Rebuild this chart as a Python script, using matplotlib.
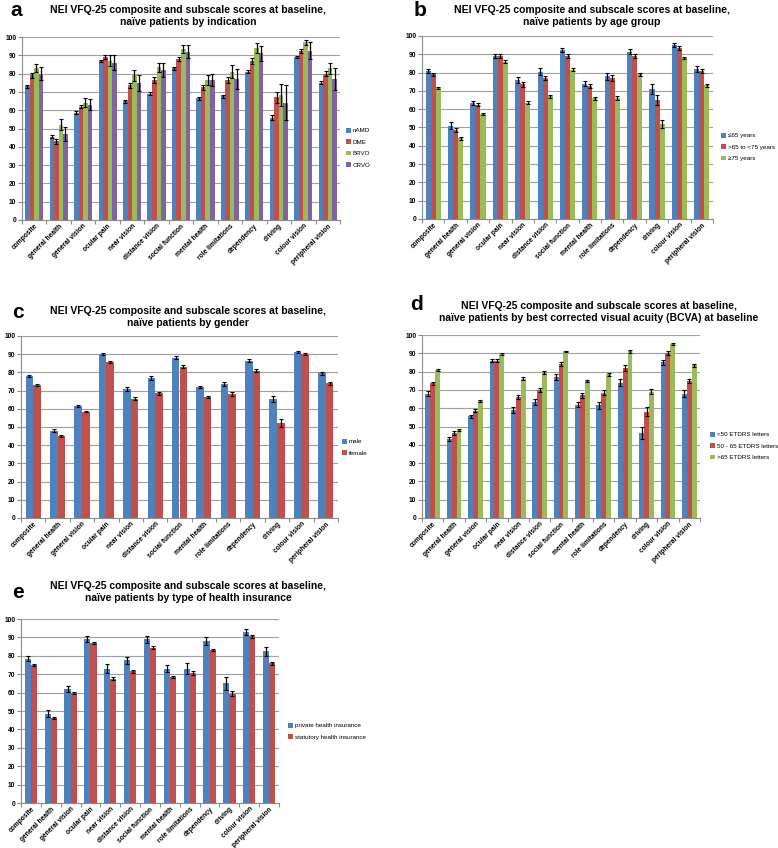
import matplotlib
matplotlib.use("Agg")
import matplotlib.pyplot as plt
import numpy as np

plt.rcParams['font.family'] = ['Liberation Sans', 'DejaVu Sans']

categories = ["composite", "general health", "general vision", "ocular pain", "near vision",
              "distance vision", "social function", "mental health", "role limitations",
              "dependency", "driving", "colour vision", "peripheral vision"]

# Panel a: by indication
a_labels = ["nAMD", "DME", "BRVO", "CRVO"]
a_nAMD = [73, 45.5, 58.5, 87, 65, 69, 83, 66.5, 67.5, 81, 56, 89, 75]
a_DME = [79, 43, 62, 89, 73.5, 76.5, 88, 72.5, 76.5, 87, 67, 92.5, 80]
a_BRVO = [83, 52, 64, 87, 79, 83.5, 93.5, 76.5, 81, 94, 68.5, 97, 83]
a_CRVO = [80, 47, 63, 86, 75, 82, 92, 76.5, 77, 91, 64, 92.5, 77]
a_err_nAMD = [0.7, 0.8, 0.8, 0.6, 0.8, 0.8, 0.8, 0.8, 0.8, 0.8, 1.5, 0.5, 0.8]
a_err_DME = [1.2, 1.5, 1.0, 1.0, 1.5, 1.5, 1.2, 1.5, 1.8, 1.5, 3.0, 1.0, 1.5]
a_err_BRVO = [2.0, 3.0, 2.5, 3.0, 3.0, 2.5, 2.0, 3.0, 3.5, 2.5, 6.0, 1.5, 3.0]
a_err_CRVO = [3.5, 4.0, 3.0, 4.0, 4.5, 4.0, 3.5, 3.5, 5.5, 4.0, 9.5, 4.5, 6.0]

# Panel b: by age group
b_labels = ["\u226465 years", ">65 to <75 years", "\u226575 years"]
b_young = [81, 51, 63.5, 89, 76, 80.5, 92.5, 74, 78, 91.5, 71, 95, 82]
b_mid = [79, 48.5, 62.5, 89, 73.5, 77, 89, 72.5, 77, 89, 65, 93.5, 81]
b_old = [71.5, 44, 57.5, 86, 63.5, 67, 81.5, 66, 66, 79, 52, 88, 73]
b_err_young = [1.2, 1.8, 1.2, 1.2, 1.8, 1.8, 1.0, 1.5, 2.0, 1.5, 2.8, 1.0, 1.8]
b_err_mid = [1.0, 1.2, 0.8, 1.0, 1.2, 1.2, 1.0, 1.0, 1.5, 1.2, 2.5, 1.0, 1.2]
b_err_old = [0.7, 0.8, 0.6, 0.7, 0.8, 0.8, 0.8, 0.8, 1.2, 0.8, 2.2, 0.7, 0.8]

# Panel c: by gender
c_labels = ["male", "female"]
c_male = [78, 48, 61.5, 90, 71, 77, 88, 72, 73.5, 86.5, 65.5, 91, 79.5]
c_female = [73, 45, 58.5, 85.5, 65.5, 68.5, 83, 66.5, 68, 81, 52, 90, 74]
c_err_male = [0.8, 0.8, 0.6, 0.6, 1.0, 1.0, 0.8, 0.8, 1.2, 1.0, 1.5, 0.6, 0.8]
c_err_female = [0.6, 0.6, 0.5, 0.6, 0.8, 0.8, 0.8, 0.6, 1.2, 0.8, 2.2, 0.5, 1.0]

# Panel d: by BCVA
d_labels = ["<50 ETDRS letters", "50 - 65 ETDRS letters", ">65 ETDRS letters"]
d_low = [68, 43, 55.5, 86, 59, 63.5, 77, 62, 61.5, 74, 46.5, 85, 68]
d_mid = [73.5, 46.5, 58.5, 86, 66, 70, 84, 67, 68.5, 82, 58, 90, 75]
d_high = [81, 48, 64, 89.5, 76, 79.5, 91, 75, 78.5, 91, 69, 95, 83.5]
d_err_low = [1.2, 1.0, 1.0, 1.0, 1.5, 1.8, 1.8, 1.5, 2.0, 2.0, 3.5, 1.5, 1.8]
d_err_mid = [1.0, 1.0, 0.8, 1.0, 1.2, 1.2, 1.2, 1.2, 1.5, 1.5, 2.5, 1.0, 1.2]
d_err_high = [0.5, 0.6, 0.5, 0.6, 0.8, 0.8, 0.5, 0.6, 1.0, 0.8, 1.5, 0.5, 0.8]

# Panel e: by health insurance
e_labels = ["private health insurance", "statutory health insurance"]
e_private = [78.5, 48.5, 62, 89, 73, 77.5, 89, 73, 73, 88, 65, 93, 82.5]
e_statutory = [75, 46, 60, 87, 67.5, 71.5, 84.5, 68.5, 70.5, 83, 59.5, 90.5, 76]
e_err_private = [1.5, 2.0, 1.5, 1.5, 2.5, 2.0, 2.0, 2.0, 3.0, 2.0, 3.5, 1.5, 2.5]
e_err_statutory = [0.5, 0.6, 0.5, 0.6, 0.8, 0.8, 0.8, 0.6, 1.0, 0.6, 1.5, 0.6, 0.8]

colors = ["#4F81BD", "#C0504D", "#9BBB59", "#8064A2"]

W, H = 778, 848
fig = plt.figure(figsize=(W / 100, H / 100), dpi=100)
fig.patch.set_facecolor("white")


def px_axes(x0, y0, x1, y1):
    return fig.add_axes([x0 / W, 1 - y1 / H, (x1 - x0) / W, (y1 - y0) / H])


def panel(box, letter, letter_xy, title, title_xy, series, errs, labels, leg_xy, group_w):
    ax = px_axes(*box)
    n = len(series)
    x = np.arange(len(categories))
    bw = group_w / n
    for i, (vals, er) in enumerate(zip(series, errs)):
        pos = x - group_w / 2 + bw * (i + 0.5)
        ax.bar(pos, vals, width=bw, color=colors[i], label=labels[i], zorder=3,
               edgecolor="none")
        ax.errorbar(pos, vals, yerr=er, fmt="none", ecolor="black", elinewidth=0.9,
                    capsize=1.3, capthick=0.8, zorder=4)
    ax.set_ylim(0, 100)
    ax.set_xlim(-0.5, len(categories) - 0.5)
    ax.set_yticks(np.arange(0, 101, 10))
    ax.yaxis.grid(True, color="#A0A0A0", linewidth=0.8, zorder=0)
    ax.set_axisbelow(True)
    for s in ["top", "right"]:
        ax.spines[s].set_visible(False)
    for s in ["left", "bottom"]:
        ax.spines[s].set_color("#8C8C8C")
        ax.spines[s].set_linewidth(0.8)
    ax.set_xticks(np.arange(len(categories) + 1) - 0.5, minor=False)
    ax.set_xticklabels([])
    ax.set_xticks(x, minor=True)
    ax.set_xticklabels(categories, minor=True, rotation=45, ha="right",
                       rotation_mode="anchor", fontsize=4.8, fontweight="bold")
    ax.tick_params(axis="x", which="minor", length=0, pad=2)
    ax.tick_params(axis="x", which="major", length=3, color="#8C8C8C", direction="out")
    ax.tick_params(axis="y", length=3, color="#8C8C8C", labelsize=4.8, pad=1)
    for lab in ax.get_yticklabels():
        lab.set_fontweight("bold")
    fig.text(letter_xy[0] / W, 1 - letter_xy[1] / H, letter, fontsize=15,
             fontweight="bold", ha="left", va="center")
    fig.text(title_xy[0] / W, 1 - title_xy[1] / H, title, fontsize=7.5,
             fontweight="bold", ha="center", va="center", linespacing=1.25)
    ax.legend(loc="upper left", bbox_to_anchor=(leg_xy[0] / W, 1 - leg_xy[1] / H),
              bbox_transform=fig.transFigure, frameon=False, fontsize=4.5,
              handlelength=0.75, handleheight=0.75, handletextpad=0.3,
              labelspacing=0.95, borderpad=0, borderaxespad=0)
    return ax


panel((22, 37, 340, 220), "a", (10, 10),
      "NEI VFQ-25 composite and subscale scores at baseline,\nna\u00efve patients by indication",
      (188, 16), [a_nAMD, a_DME, a_BRVO, a_CRVO],
      [a_err_nAMD, a_err_DME, a_err_BRVO, a_err_CRVO], a_labels, (346, 128), 0.74)

panel((422, 36, 713, 219), "b", (414, 10),
      "NEI VFQ-25 composite and subscale scores at baseline,\nna\u00efve patients by age group",
      (592, 16), [b_young, b_mid, b_old],
      [b_err_young, b_err_mid, b_err_old], b_labels, (721, 133), 0.68)

panel((21, 336, 338, 518), "c", (12, 312),
      "NEI VFQ-25 composite and subscale scores at baseline,\nna\u00efve patients by gender",
      (188, 317), [c_male, c_female],
      [c_err_male, c_err_female], c_labels, (342, 439), 0.62)

panel((422, 335, 700, 518), "d", (410, 305),
      "NEI VFQ-25 composite and subscale scores at baseline,\nna\u00efve patients by best corrected visual acuity (BCVA) at baseline",
      (599, 312), [d_low, d_mid, d_high],
      [d_err_low, d_err_mid, d_err_high], d_labels, (710, 432), 0.68)

panel((21, 619, 279, 803), "e", (12, 592),
      "NEI VFQ-25 composite and subscale scores at baseline,\nna\u00efve patients by type of health insurance",
      (188, 592), [e_private, e_statutory],
      [e_err_private, e_err_statutory], e_labels, (288, 723), 0.62)

fig.savefig("out.png", dpi=100, facecolor="white")
